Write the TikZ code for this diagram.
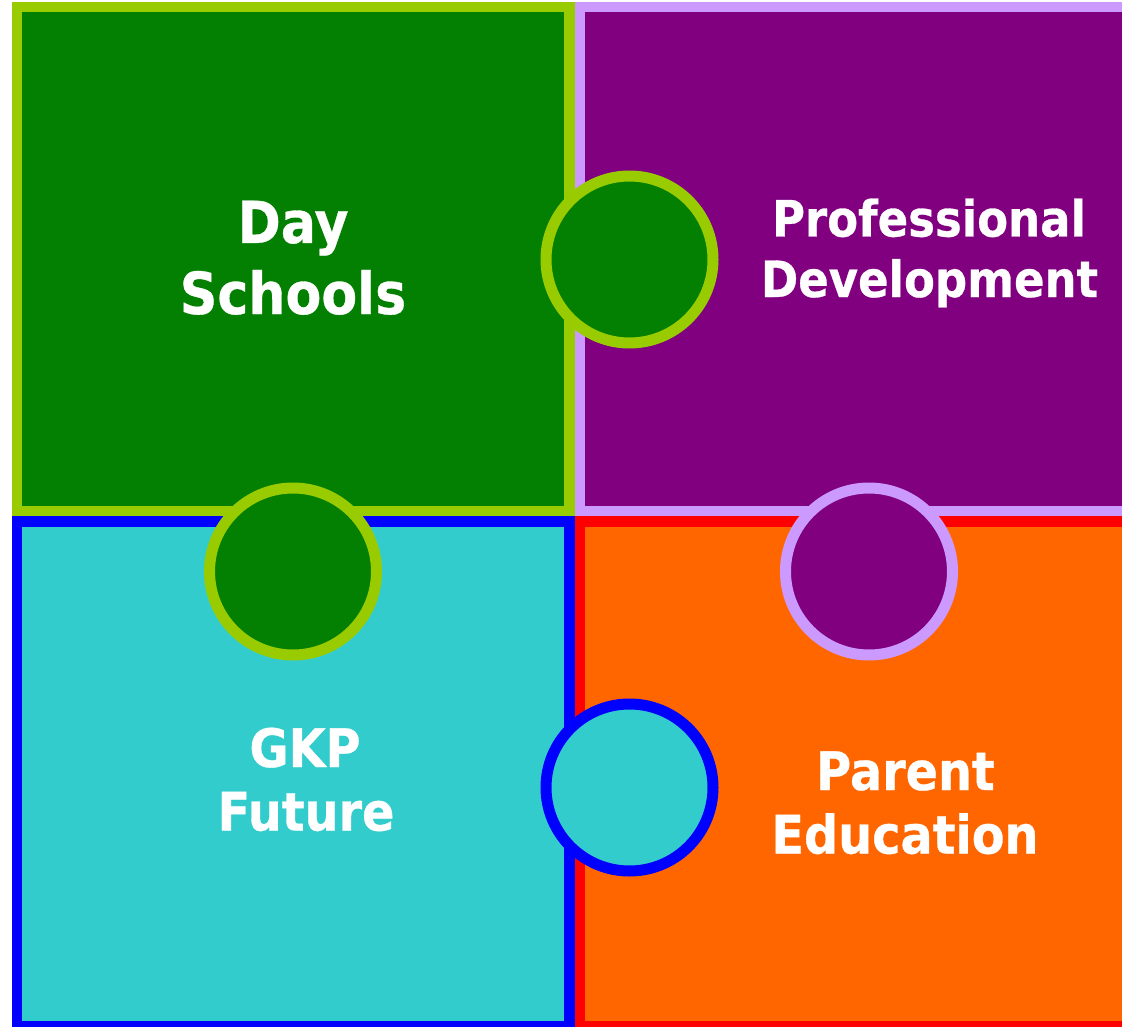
\documentclass[tikz,border=0pt]{standalone}
\usepackage{fontspec}
\setmainfont{DejaVu Sans}[FakeStretch=0.9,BoldFeatures={FakeBold=0.6}]
\definecolor{dgreen}{HTML}{037F01}
\definecolor{lgreen}{HTML}{99CC00}
\definecolor{dpurple}{HTML}{800080}
\definecolor{lpurple}{HTML}{CC99FF}
\definecolor{teal2}{HTML}{33CCCC}
\definecolor{orange2}{HTML}{FF6600}
\tikzset{x=1pt,y=-1pt,
 quad/.style={line width=10.5pt,draw=#1,line join=miter},
 disc/.style={circle,line width=11pt,minimum size=167pt,inner sep=0pt,outer sep=0pt},
 lab/.style={text=white,align=center,anchor=base,font=\bfseries\fontsize{#1}{1.0}\selectfont,inner sep=0pt}}
\begin{document}
\begin{tikzpicture}
\useasboundingbox (0,0) rectangle (1122,1027);
\fill[white] (0,0) rectangle (1122,1027);
\path[quad=blue,fill=teal2] (17,521.5) rectangle (569.5,1026);
\path[quad=red,fill=orange2] (580,521.5) rectangle (1132,1026);
\path[quad=lgreen,fill=dgreen] (17,7) rectangle (569.5,511);
\path[quad=lpurple,fill=dpurple] (580,7) rectangle (1132,511);
\node[disc,draw=lgreen,fill=dgreen] (c1) at (629.5,259.5) {};
\node[disc,draw=lgreen,fill=dgreen] (c2) at (293,571.5) {};
\node[disc,draw=lpurple,fill=dpurple] (c3) at (869,571.5) {};
\node[disc,draw=blue,fill=teal2] (c4) at (629.5,787.5) {};
\node[lab=58] (t1) at (293,243) {Day};
\node[lab=58] (t2) at (293,314) {Schools};
\node[lab=50] (t3) at (929,236.5) {Professional};
\node[lab=50] (t4) at (929.5,297) {Development};
\node[lab=53] (t5) at (305,767) {GKP};
\node[lab=53] (t6) at (306,830.5) {Future};
\node[lab=53] (t7) at (905.5,790) {Parent};
\node[lab=53] (t8) at (905,853.5) {Education};
\end{tikzpicture}
\end{document}
